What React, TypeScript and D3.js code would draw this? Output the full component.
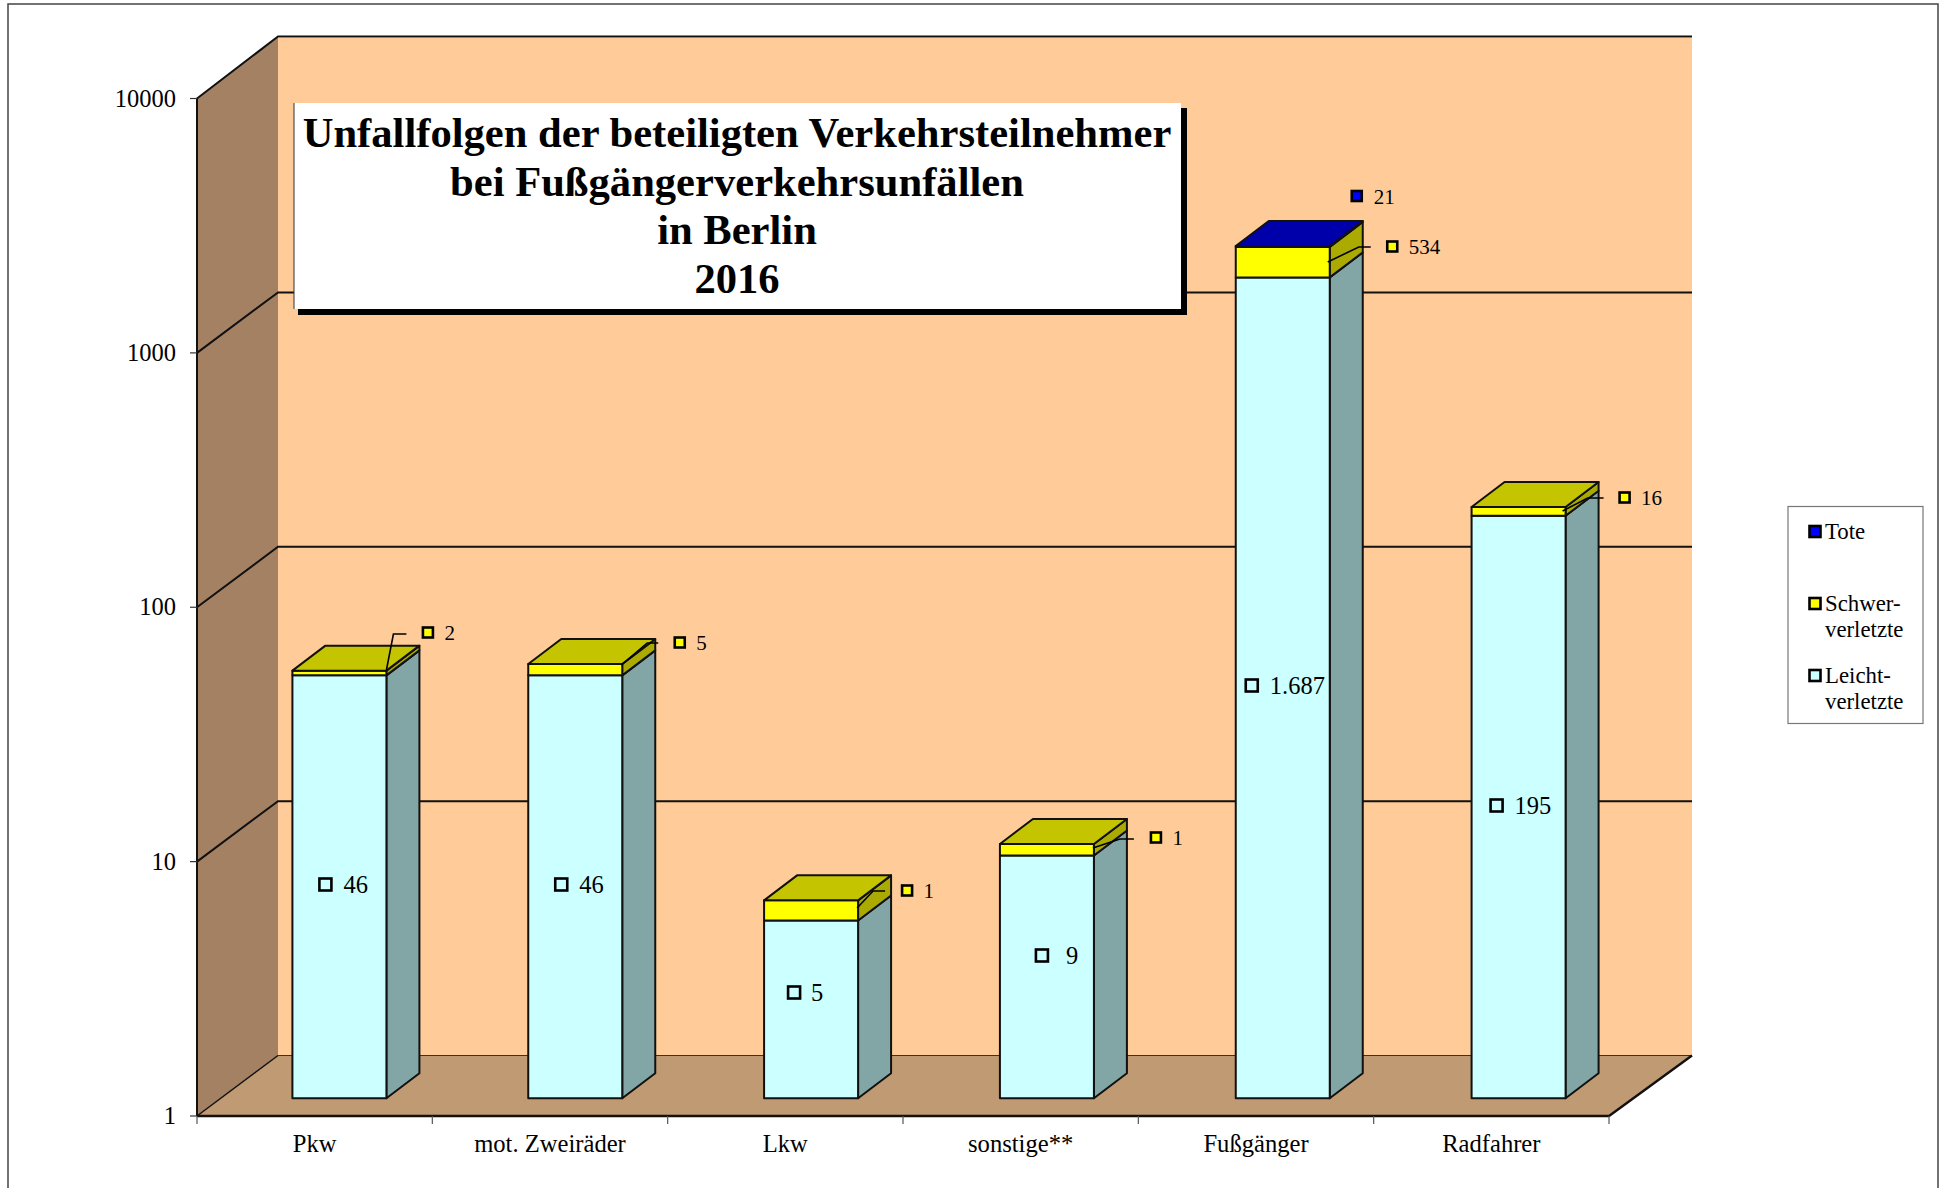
import React from "react";
import * as d3 from "d3";

const categories = ["Pkw", "mot. Zweiräder", "Lkw", "sonstige**", "Fußgänger", "Radfahrer"];
const leichtverletzte = [46, 46, 5, 9, 1687, 195];
const schwerverletzte = [2, 5, 1, 1, 534, 16];
const tote = [0, 0, 0, 0, 21, 0];
const yTicks = [1, 10, 100, 1000, 10000];
const titleLines = ["Unfallfolgen der beteiligten Verkehrsteilnehmer", "bei Fußgängerverkehrsunfällen", "in Berlin", "2016"];
const leichtLabels = ["46", "46", "5", "9", "1.687", "195"];
const schwerLabels = ["2", "5", "1", "1", "534", "16"];
const toteLabels = ["", "", "", "", "21", ""];

const FONT = "'Liberation Serif', serif";
const X0 = 197, X1 = 1609, Y0 = 1116, Y1 = 98.5;
const DX = 81, DY = -60.5, BACK_EXTRA = 2;
const BAR_W = 94, BAR_SHIFT_X = 24.5, BAR_SHIFT_Y = -17.7, BAR_DX = 33, BAR_DY = -25;

const x = d3.scaleBand<string>().domain(categories).range([X0, X1]);
const xBar = d3.scaleBand<string>().domain(categories).range([X0, X1 + 3]);
const y = d3.scaleLog().domain([1, 10000]).range([Y0, Y1]);
const barX = (c: string) => (xBar(c) as number) + (xBar.bandwidth() - BAR_W) / 2 + BAR_SHIFT_X;
const barY = (v: number) => y(v) + BAR_SHIFT_Y;
const poly = (pts: number[][]) => pts.map((p) => p.join(",")).join(" ");

const palette = {
  leicht: { front: "#CCFFFF", side: "#82A5A5", top: "#A8DADA" },
  schwer: { front: "#FFFF00", side: "#AAAA00", top: "#C4C400" },
  tote: { front: "#0000FF", side: "#0000AA", top: "#0000AA" },
};

// label placement relative to the bar's left edge and the plot's scale
const leichtOffset = [[33, 884.5], [33, 884.5], [30, 992.5], [42, 955.5], [16, 685.5], [25, 805.5]];
const leichtTextGap = [18, 18, 17, 24, 18, 18];
const schwerOffset = [[135.5, 632.5], [151.5, 642.5], [143, 890.5], [156, 837.5], [156.5, 246.5], [153, 497.5]];
const leaders = [
  [[94, 670], [101, 634], [114, 634]],
  [[93, 665], [119, 643], [130, 643]],
  [[93, 908], [109, 891], [121, 891]],
  [[93, 848], [120, 839], [134, 839]],
  [[92, 262], [123, 247], [135, 247]],
  [[91, 511], [116, 498], [132, 498]],
];

function Marker({ cx, cy, fill, s = 11 }: { cx: number; cy: number; fill: string; s?: number }) {
  return <rect x={cx - s / 2} y={cy - s / 2} width={s} height={s} fill={fill} stroke="#000" strokeWidth={2.6} />;
}

function Bar({ i }: { i: number }) {
  const c = categories[i];
  const segs: { lo: number; hi: number; col: typeof palette.leicht }[] = [];
  let acc = 1;
  const add = (v: number, col: typeof palette.leicht) => {
    if (v <= 0) return;
    const top = (acc === 1 ? 0 : acc) + v;
    segs.push({ lo: acc, hi: top, col });
    acc = top;
  };
  add(leichtverletzte[i], palette.leicht);
  add(schwerverletzte[i], palette.schwer);
  add(tote[i], palette.tote);
  const l = barX(c), r = l + BAR_W;
  const last = segs[segs.length - 1];
  const yt = barY(last.hi);
  const stroke = { stroke: "#111", strokeWidth: 2, strokeLinejoin: "round" as const };
  return (
    <g>
      {segs.map((s, k) => {
        const a = barY(s.lo), b = barY(s.hi);
        return (
          <g key={k}>
            <polygon points={poly([[r, a], [r + BAR_DX, a + BAR_DY], [r + BAR_DX, b + BAR_DY], [r, b]])} fill={s.col.side} {...stroke} />
            <rect x={l} y={b} width={BAR_W} height={a - b} fill={s.col.front} {...stroke} />
          </g>
        );
      })}
      <polygon points={poly([[l, yt], [l + BAR_DX, yt + BAR_DY], [r + BAR_DX, yt + BAR_DY], [r, yt]])} fill={last.col.top} {...stroke} />
    </g>
  );
}

export default function App() {
  const T = { fontFamily: FONT, fill: "#000" };
  const backR = X1 + DX + BACK_EXTRA;
  return (
    <svg width={1939} height={1188} style={{ position: "absolute", left: 0, top: 0, background: "#fff" }}>
      <rect x={8} y={4} width={1930} height={1200} fill="#fff" stroke="#444" strokeWidth={1.5} />

      {/* walls */}
      <rect x={X0 + DX} y={Y1 + DY} width={backR - X0 - DX} height={Y0 - Y1} fill="#FFCC99" />
      <polygon points={poly([[X0, Y1], [X0 + DX, Y1 + DY - 1.5], [X0 + DX, Y0 + DY], [X0, Y0]])} fill="#A58164" />
      <polygon points={poly([[X0, Y0], [X0 + DX, Y0 + DY], [backR, Y0 + DY], [X1, Y0]])} fill="#C09A72" />

      {/* grid */}
      {yTicks.slice(1, -1).map((t) => (
        <polyline key={t} points={poly([[X0, y(t)], [X0 + DX, y(t) + DY], [backR, y(t) + DY]])} fill="none" stroke="#111" strokeWidth={2} />
      ))}
      <polyline points={poly([[X0, Y1], [X0 + DX, Y1 + DY - 1.5], [backR, Y1 + DY - 1.5]])} fill="none" stroke="#111" strokeWidth={2} />
      <line x1={X0} y1={Y0} x2={X0 + DX} y2={Y0 + DY} stroke="#111" strokeWidth={1.5} />
      <line x1={X0 + DX} y1={Y0 + DY} x2={backR} y2={Y0 + DY} stroke="#333" strokeWidth={1.2} />
      <line x1={X0} y1={Y1} x2={X0} y2={Y0} stroke="#111" strokeWidth={2} />
      <polyline points={poly([[X0, Y0], [X1, Y0], [backR, Y0 + DY]])} fill="none" stroke="#111" strokeWidth={2.4} />

      {/* axes */}
      {yTicks.map((t) => (
        <g key={t}>
          <line x1={X0 - 7} y1={y(t)} x2={X0} y2={y(t)} stroke="#333" strokeWidth={1.2} />
          <text x={176} y={y(t) + 8} textAnchor="end" fontSize={24.5} {...T}>{t}</text>
        </g>
      ))}
      {[...categories.map((c) => x(c) as number), X1].map((tx, i) => (
        <line key={i} x1={tx} y1={Y0} x2={tx} y2={Y0 + 8} stroke="#555" strokeWidth={1.2} />
      ))}
      {categories.map((c) => (
        <text key={c} x={(x(c) as number) + x.bandwidth() / 2} y={1152} textAnchor="middle" fontSize={24.6} {...T}>{c}</text>
      ))}

      {/* bars */}
      {categories.map((c, i) => <Bar key={c} i={i} />)}

      {/* data labels */}
      {categories.map((c, i) => {
        const l = barX(c);
        const [ox, ly] = leichtOffset[i];
        const [sx, sy] = schwerOffset[i];
        return (
          <g key={c}>
            <polyline points={poly(leaders[i].map(([a, b]) => [l + a, b]))} fill="none" stroke="#000" strokeWidth={1.6} />
            <Marker cx={l + ox} cy={ly} fill={palette.leicht.front} s={12} />
            <text x={l + ox + leichtTextGap[i]} y={ly + 8.5} fontSize={24.5} {...T}>{leichtLabels[i]}</text>
            <Marker cx={l + sx} cy={sy} fill={palette.schwer.front} s={10} />
            <text x={l + sx + 16.5} y={sy + 7} fontSize={21} {...T}>{schwerLabels[i]}</text>
            {toteLabels[i] && (
              <>
                <Marker cx={l + 121} cy={196} fill={palette.tote.front} s={10} />
                <text x={l + 138} y={204} fontSize={21} {...T}>{toteLabels[i]}</text>
              </>
            )}
          </g>
        );
      })}

      {/* title */}
      <rect x={298} y={108} width={889} height={207} fill="#000" />
      <rect x={294} y={103} width={887} height={206} fill="#fff" />
      <line x1={294} y1={103} x2={294} y2={309} stroke="#333" strokeWidth={1} />
      {titleLines.map((t, i) => (
        <text key={i} x={737} y={147 + i * 48.5} textAnchor="middle" fontSize={42.6} fontWeight="bold" {...T}>{t}</text>
      ))}

      {/* legend */}
      <rect x={1788} y={506.5} width={135} height={217} fill="#fff" stroke="#777" strokeWidth={1.2} />
      <Marker cx={1815} cy={531.5} fill={palette.tote.front} s={11} />
      <text x={1825} y={539} fontSize={22.8} {...T}>Tote</text>
      <Marker cx={1815} cy={603.5} fill={palette.schwer.front} s={11} />
      <text x={1825} y={611} fontSize={22.8} {...T}>Schwer-</text>
      <text x={1825} y={637} fontSize={22.8} {...T}>verletzte</text>
      <Marker cx={1815} cy={675.5} fill={palette.leicht.front} s={11} />
      <text x={1825} y={683} fontSize={22.8} {...T}>Leicht-</text>
      <text x={1825} y={709} fontSize={22.8} {...T}>verletzte</text>
    </svg>
  );
}
